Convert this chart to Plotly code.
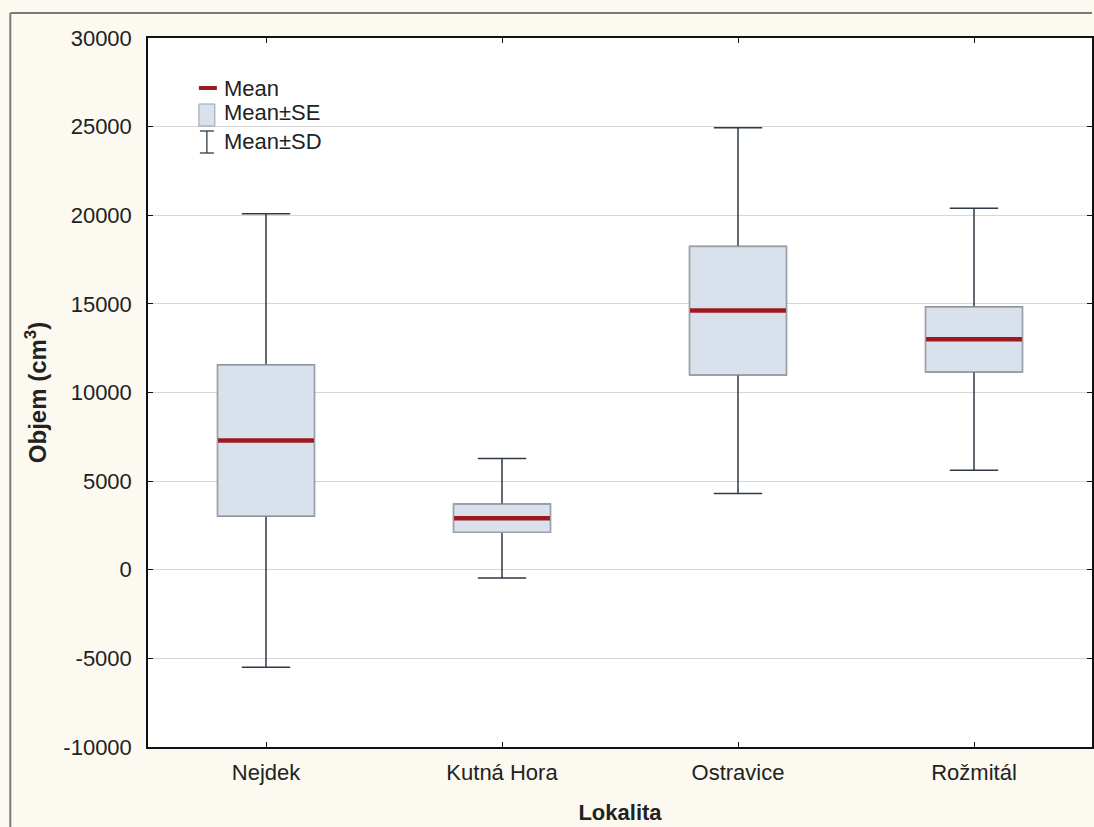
import plotly.graph_objects as go

# Volume by locality: mean, standard error and standard deviation (cm^3)
localities = ["Nejdek", "Kutná Hora", "Ostravice", "Rožmitál"]
means = [7290, 2910, 14620, 13000]
se = [4260, 790, 3620, 1830]
sd = [12790, 3370, 10320, 7390]

y_ticks = [-10000, -5000, 0, 5000, 10000, 15000, 20000, 25000, 30000]

lo_se = [m - s for m, s in zip(means, se)]
hi_se = [m + s for m, s in zip(means, se)]
lo_sd = [m - s for m, s in zip(means, sd)]
hi_sd = [m + s for m, s in zip(means, sd)]

BOX_FILL = "#d9e1ed"
BOX_LINE = "#9ba1a9"
WHISKER = "#2e3a46"
MEAN_RED = "#9c1a1f"
FONT = "Liberation Sans, Arial, sans-serif"
TEXT = "#222222"

fig = go.Figure()

# Mean ± SD whiskers (box body is covered by the SE box drawn next)
fig.add_trace(go.Box(
    x=localities, q1=lo_se, median=means, q3=hi_se,
    lowerfence=lo_sd, upperfence=hi_sd,
    width=0.41, whiskerwidth=0.5, boxpoints=False,
    fillcolor=BOX_FILL, line=dict(color=WHISKER, width=1.5),
    hoverinfo="skip", showlegend=False,
))

# Mean ± SE box
fig.add_trace(go.Box(
    x=localities, q1=lo_se, median=means, q3=hi_se,
    lowerfence=lo_se, upperfence=hi_se,
    width=0.41, whiskerwidth=0, boxpoints=False,
    fillcolor=BOX_FILL, line=dict(color=BOX_LINE, width=1.5),
    hoverinfo="skip", showlegend=False,
))

# Mean line
fig.add_trace(go.Scatter(
    x=localities, y=means, mode="markers",
    marker=dict(symbol="line-ew", size=68.5,
                line=dict(color=MEAN_RED, width=4.5)),
    hoverinfo="skip", showlegend=False,
))

PLOT_L, PLOT_R, PLOT_T, PLOT_B = 148, 1094, 38, 747


def px_x(x):
    """Pixel column -> paper x inside the plot area."""
    return (x - PLOT_L) / (PLOT_R - PLOT_L)


def px_y(y):
    """Pixel row -> paper y inside the plot area."""
    return (PLOT_B - y) / (PLOT_B - PLOT_T)


shapes = [
    # outer frame of the chart page
    dict(type="line", xref="paper", yref="paper", x0=px_x(10), x1=px_x(1094),
         y0=px_y(13), y1=px_y(13), line=dict(color="#7a7a7a", width=2)),
    dict(type="line", xref="paper", yref="paper", x0=px_x(10), x1=px_x(10),
         y0=px_y(13), y1=px_y(827), line=dict(color="#7a7a7a", width=2)),
    # legend: Mean swatch
    dict(type="line", xref="paper", yref="paper",
         x0=px_x(199), x1=px_x(217), y0=px_y(88), y1=px_y(88),
         line=dict(color=MEAN_RED, width=4)),
    # legend: Mean±SE swatch
    dict(type="rect", xref="paper", yref="paper",
         x0=px_x(199), x1=px_x(215), y0=px_y(126), y1=px_y(104),
         fillcolor=BOX_FILL, line=dict(color=BOX_LINE, width=1)),
    # legend: Mean±SD swatch (I-beam)
    dict(type="line", xref="paper", yref="paper",
         x0=px_x(207), x1=px_x(207), y0=px_y(131), y1=px_y(153),
         line=dict(color=WHISKER, width=1.3)),
    dict(type="line", xref="paper", yref="paper",
         x0=px_x(200), x1=px_x(214), y0=px_y(131), y1=px_y(131),
         line=dict(color=WHISKER, width=1.3)),
    dict(type="line", xref="paper", yref="paper",
         x0=px_x(200), x1=px_x(214), y0=px_y(153), y1=px_y(153),
         line=dict(color=WHISKER, width=1.3)),
]

legend_labels = [("Mean", 88), ("Mean±SE", 113), ("Mean±SD", 141)]
annotations = [
    dict(text=t, xref="paper", yref="paper",
         x=px_x(222), y=px_y(yy),
         xanchor="left", yanchor="middle", showarrow=False,
         font=dict(family=FONT, size=22, color=TEXT))
    for t, yy in legend_labels
]

fig.update_layout(
    width=1094, height=827,
    margin=dict(l=PLOT_L, r=1094 - PLOT_R, t=PLOT_T, b=827 - PLOT_B),
    paper_bgcolor="#fcf9f0",
    plot_bgcolor="#ffffff",
    font=dict(family=FONT, size=22, color=TEXT),
    showlegend=False,
    shapes=shapes,
    annotations=annotations,
)

fig.update_xaxes(
    type="category", range=[-0.5, 3.5],
    showline=True, linecolor="#111111", linewidth=1.5, mirror="ticks",
    ticks="inside", ticklen=5, tickcolor="#111111",
    showgrid=False,
    ticklabelstandoff=5,
    tickfont=dict(family=FONT, size=22, color=TEXT),
    title=dict(text="<b>Lokalita</b>", font=dict(family=FONT, size=22, color=TEXT),
               standoff=20),
)

fig.update_yaxes(
    range=[-10000, 30000],
    tickvals=y_ticks, ticktext=[str(v) for v in y_ticks],
    showline=True, linecolor="#111111", linewidth=1.5, mirror="ticks",
    ticks="inside", ticklen=5, tickcolor="#111111",
    showgrid=True, gridcolor="#d6d6d6", gridwidth=1,
    zeroline=False,
    ticklabelstandoff=10,
    tickfont=dict(family=FONT, size=22, color=TEXT),
    title=dict(text="<b>Objem (cm<sup>3</sup>)</b>",
               font=dict(family=FONT, size=24, color=TEXT),
               standoff=10),
)

fig.write_html("out.html")
